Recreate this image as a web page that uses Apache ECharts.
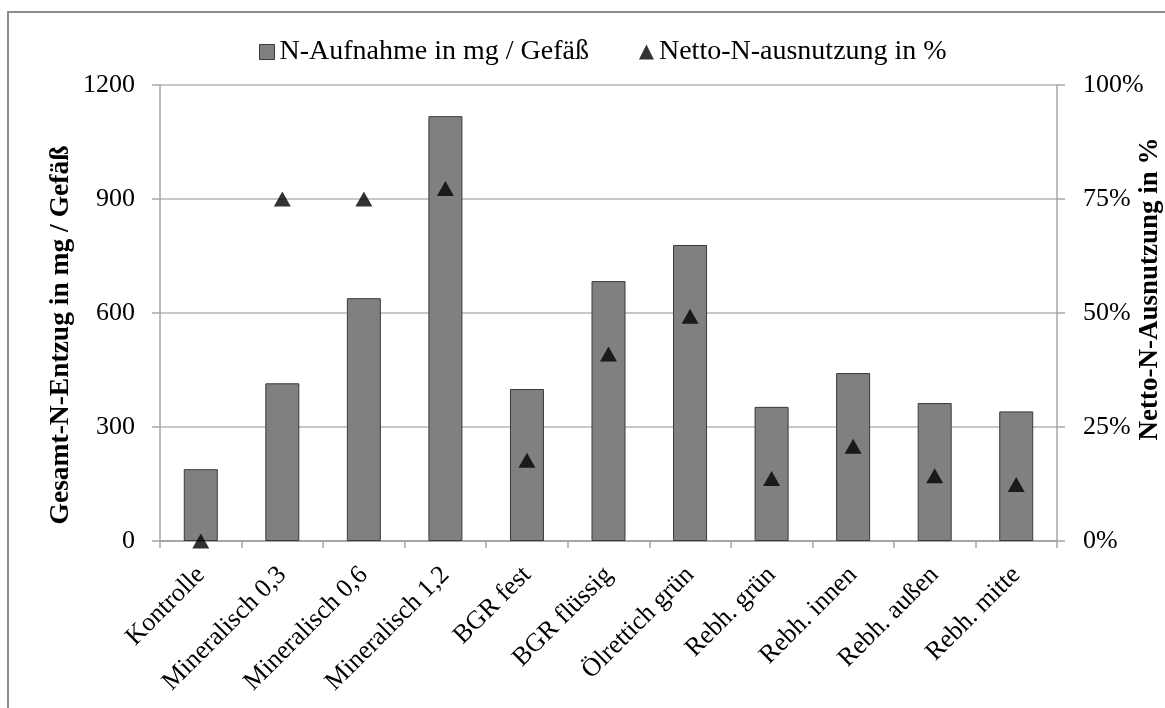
<!DOCTYPE html>
<html>
<head>
<meta charset="utf-8">
<script src="https://cdn.jsdelivr.net/npm/echarts@6/dist/echarts.min.js"></script>
<style>html,body{margin:0;padding:0;background:#fff}#c{width:1165px;height:708px}</style>
</head>
<body>
<div id="c"></div>
<script>
const categories = ['Kontrolle','Mineralisch 0,3','Mineralisch 0,6','Mineralisch 1,2','BGR fest','BGR flüssig','Ölrettich grün','Rebh. grün','Rebh. innen','Rebh. außen','Rebh. mitte'];
const nAufnahme = [189, 415, 639, 1118, 400, 684, 779, 353, 442, 363, 341];
const nettoAusnutzung = [0, 75, 75, 77.3, 17.7, 41, 49.3, 13.7, 20.8, 14.3, 12.4];
const leftTicks = {min: 0, max: 1200, interval: 300};
const rightTicks = {min: 0, max: 100, interval: 25};
const seriesNames = ['N-Aufnahme in mg / Gefäß', 'Netto-N-ausnutzung in %'];

const font = 'Liberation Serif, Times New Roman, serif';
const chart = echarts.init(document.getElementById('c'));
chart.setOption({
  animation: false,
  backgroundColor: '#fff',
  textStyle: {fontFamily: font},
  graphic: [{
    type: 'rect', shape: {x: 8, y: 12, width: 1200, height: 720},
    style: {fill: 'none', stroke: '#8c8c8c', lineWidth: 2}, silent: true, z: -1
  }],
  legend: {
    top: 33, left: 254,
    itemWidth: 15, itemHeight: 15, itemGap: 50,
    textStyle: {fontFamily: font, fontSize: 28, color: '#000'},
    data: [{name: seriesNames[0], icon: 'rect', itemStyle: {borderColor: '#3a3a3a', borderWidth: 1}}, {name: seriesNames[1], icon: 'triangle'}]
  },
  grid: {left: 160, right: 108, top: 85, bottom: 167, containLabel: false, outerBoundsMode: 'none'},
  xAxis: {
    type: 'category', data: categories,
    axisLine: {lineStyle: {color: '#a6a6a6', width: 2}},
    axisTick: {show: true, length: 7, lineStyle: {color: '#a6a6a6', width: 1.5}},
    axisLabel: {rotate: 45, interval: 0, margin: 30, fontFamily: font, fontSize: 26, color: '#000'}
  },
  yAxis: [{
    type: 'value', min: leftTicks.min, max: leftTicks.max, interval: leftTicks.interval,
    name: 'Gesamt-N-Entzug in mg / Gefäß', nameLocation: 'middle', nameRotate: 90, nameGap: 85, nameMoveOverlap: false,
    nameTextStyle: {fontFamily: font, fontSize: 27.5, fontWeight: 'bold', color: '#000', padding: [0, 44, 0, 0]},
    axisLine: {show: true, lineStyle: {color: '#a6a6a6', width: 1.5}},
    axisTick: {show: true, length: 8, lineStyle: {color: '#a6a6a6', width: 1.5}},
    axisLabel: {margin: 25, fontFamily: font, fontSize: 26, color: '#000', formatter: v => String(v)},
    splitLine: {lineStyle: {color: '#c8c8c8', width: 2}}
  }, {
    type: 'value', min: rightTicks.min, max: rightTicks.max, interval: rightTicks.interval,
    name: 'Netto-N-Ausnutzung in %', nameLocation: 'middle', nameRotate: 90, nameGap: 80, nameMoveOverlap: false,
    nameTextStyle: {fontFamily: font, fontSize: 27, fontWeight: 'bold', color: '#000', padding: [0, 0, 0, 48]},
    axisLine: {show: true, lineStyle: {color: '#a6a6a6', width: 1.5}},
    axisTick: {show: true, length: 8, lineStyle: {color: '#a6a6a6', width: 1.5}},
    axisLabel: {margin: 26, fontFamily: font, fontSize: 26, color: '#000', formatter: '{value}%'},
    splitLine: {show: false}
  }],
  series: [{
    name: seriesNames[0], type: 'bar', data: nAufnahme, yAxisIndex: 0,
    barWidth: 34,
    itemStyle: {color: '#808080', borderColor: '#3a3a3a', borderWidth: 1}
  }, {
    name: seriesNames[1], type: 'scatter', data: nettoAusnutzung, yAxisIndex: 1,
    symbol: 'triangle', symbolSize: [17, 15],
    itemStyle: {color: '#000'}, z: 5
  }]
});
</script>
</body>
</html>
